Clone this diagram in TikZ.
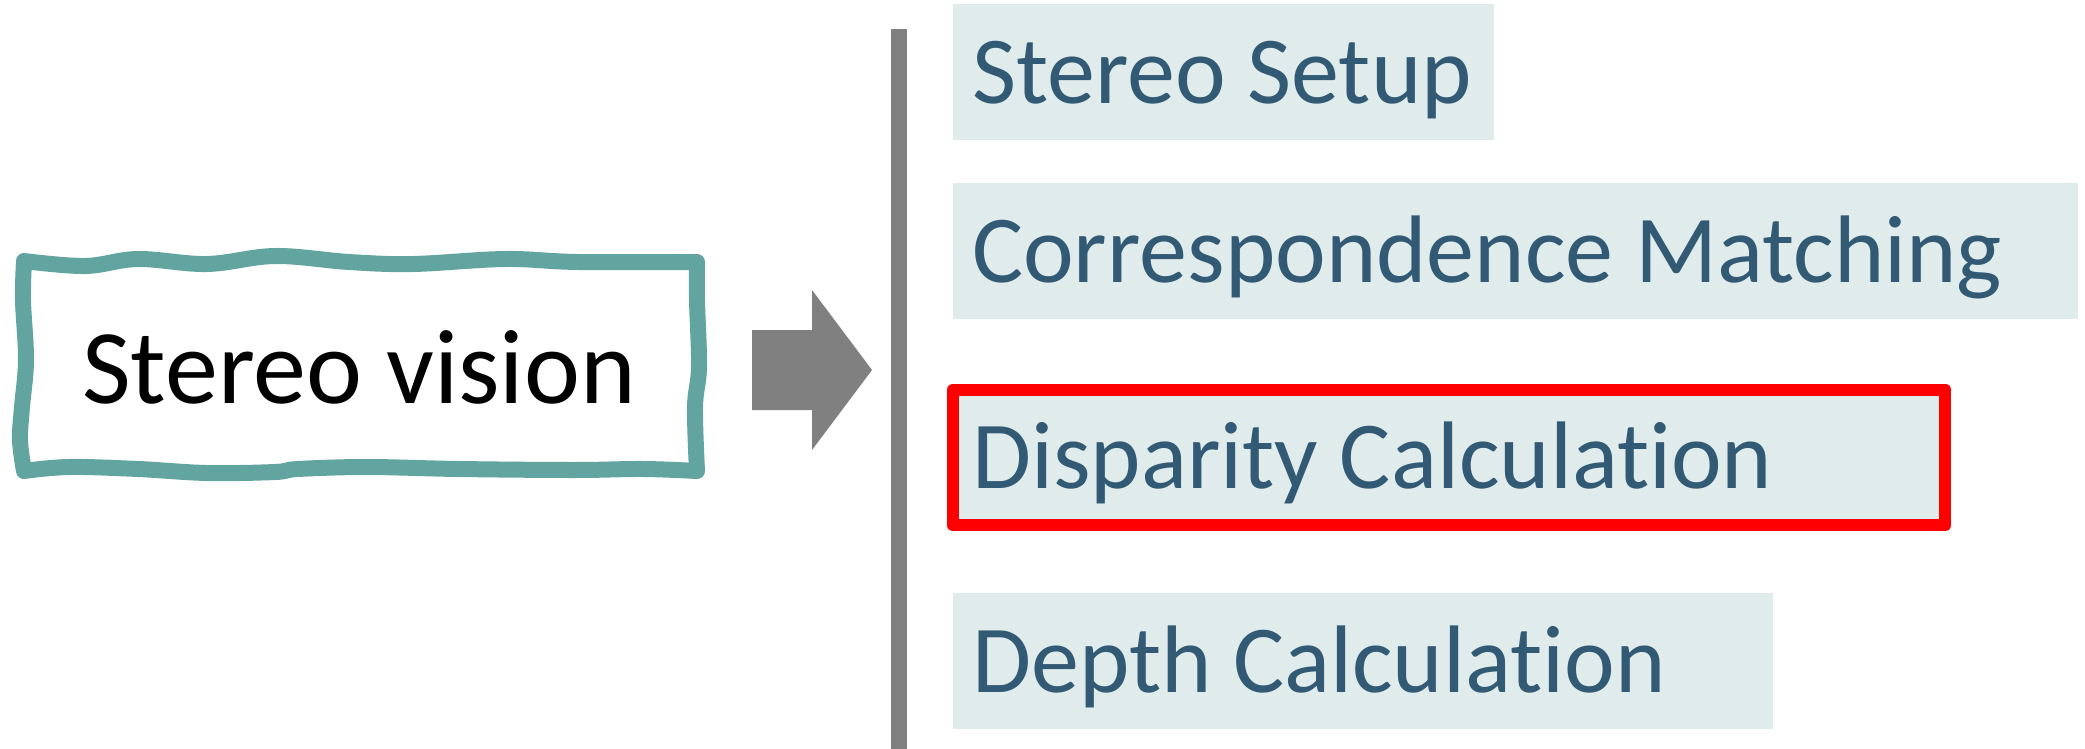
\documentclass[tikz,border=0pt]{standalone}
\usepackage{fontspec}
\setmainfont{Carlito}[Ligatures=NoCommon]
\definecolor{txtblue}{HTML}{335A74}
\definecolor{boxfill}{HTML}{E0ECEC}
\definecolor{wavyteal}{HTML}{62A49F}
\definecolor{arrowgray}{HTML}{808080}
\definecolor{hired}{HTML}{FF0000}
\tikzset{
  stepbox/.style={fill=boxfill, draw=none, inner sep=0pt, anchor=north west},
  steptext/.style={text=txtblue, inner sep=0pt, anchor=base west, font=\fontsize{96}{110}\selectfont},
  mainbox/.style={draw=wavyteal, line width=16pt, line join=round, fill=white},
}
\begin{document}
\begin{tikzpicture}[x=1pt,y=-1pt]
\useasboundingbox (0,0) rectangle (2085,749);
% wavy box
\draw[mainbox]
  plot[smooth, tension=0.6] coordinates {(24,261) (85,266) (138,259) (207,264) (275,256) (349,262) (413,264) (505,259) (578,262) (697,262)}
  -- plot[smooth, tension=0.6] coordinates {(697,262) (697,300) (699,367) (695,407) (697,471)}
  -- plot[smooth, tension=0.6] coordinates {(697,471) (643,469) (574,470) (459,469) (367,467) (298,469) (275,472) (207,473) (138,469) (69,467) (24,471)}
  -- plot[smooth, tension=0.6] coordinates {(24,471) (20,440) (22,407) (26,360) (23,300) (24,261)}
  -- cycle;
\node[inner sep=0pt, anchor=base, font=\fontsize{106}{120}\selectfont] (sv) at (359,403) {Stereo vision};
% block arrow
\fill[arrowgray] (752,330) -- (812,330) -- (812,290) -- (872,370) -- (812,450) -- (812,410) -- (752,410) -- cycle;
% vertical bar
\fill[arrowgray] (891,29) rectangle (907,749);
% step boxes
\node[stepbox, minimum width=541pt, minimum height=136pt] (b1) at (953,4) {};
\node[stepbox, minimum width=1125pt, minimum height=136pt] (b2) at (953,183) {};
\node[stepbox, minimum width=992pt, minimum height=135.5pt] (b3) at (953,389.5) {};
\draw[hired, line width=12pt, line join=round] (b3.north west) rectangle (b3.south east);
\node[stepbox, minimum width=820pt, minimum height=136pt] (b4) at (953,593) {};
\node[steptext] (t1) at (972,103.5) {Stereo Setup};
\node[steptext] (t2) at (972,282.5) {Correspondence Matching};
\node[steptext] (t3) at (972,488.5) {Disparity Calculation};
\node[steptext] (t4) at (972,692.5) {Depth Calculation};
\end{tikzpicture}
\end{document}
